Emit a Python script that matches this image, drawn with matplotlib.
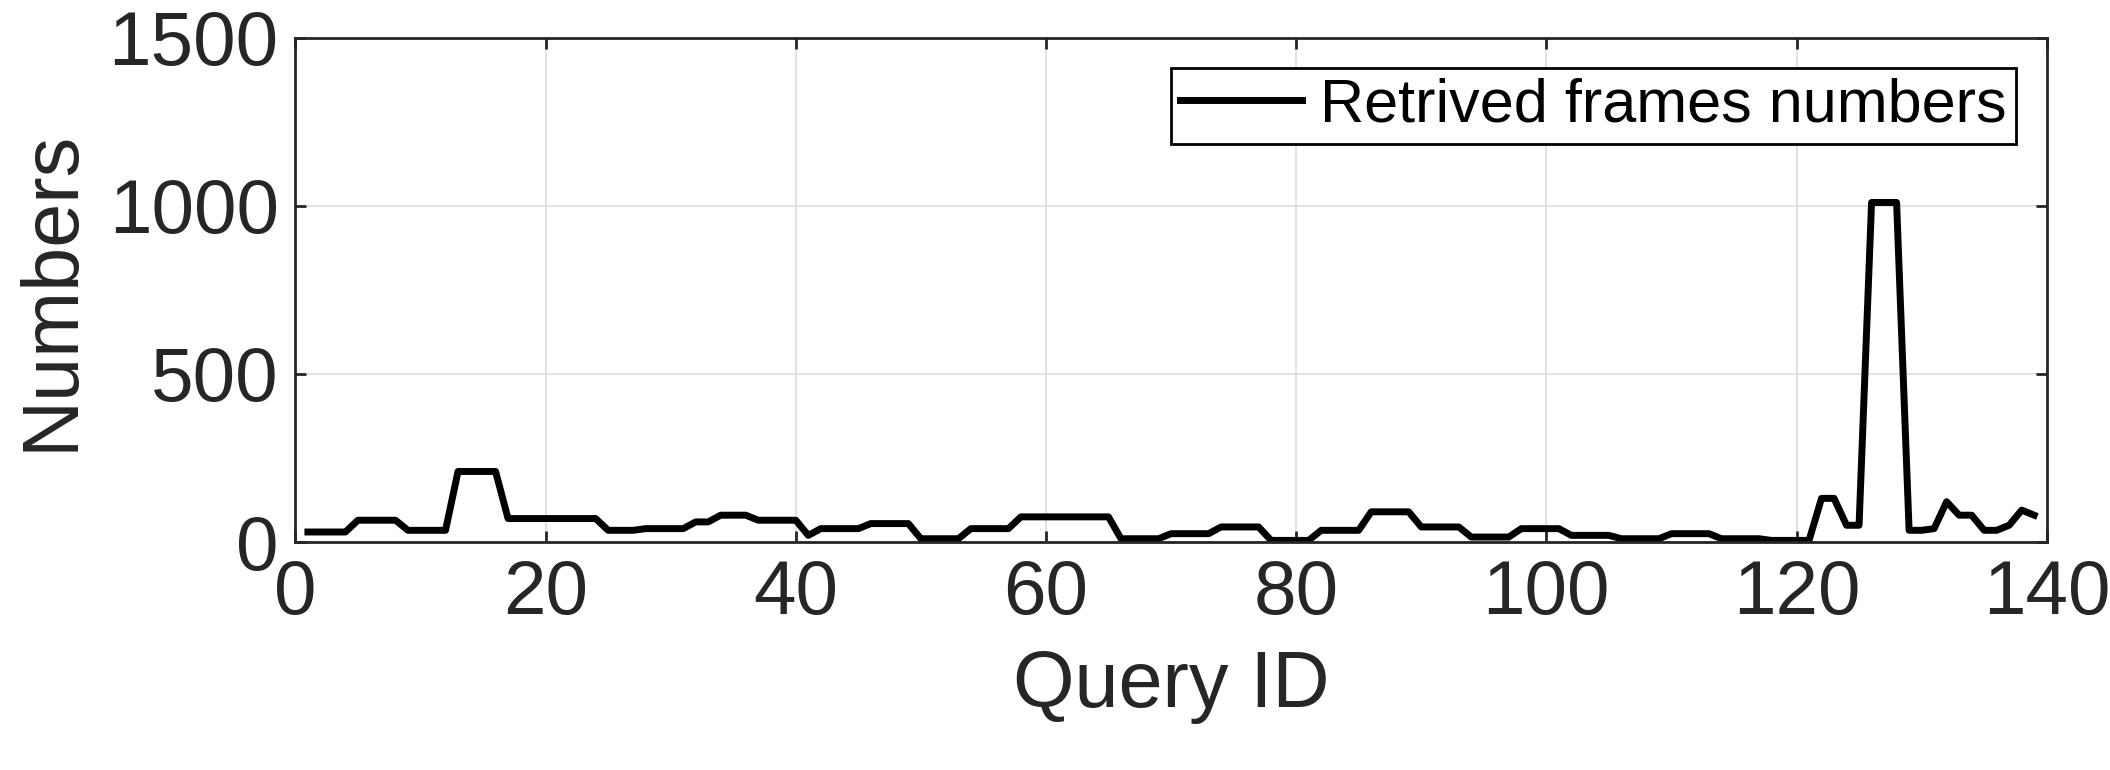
import matplotlib
matplotlib.use("Agg")
import matplotlib.pyplot as plt
import numpy as np

plt.rcParams['font.family'] = ['Liberation Sans', 'DejaVu Sans']

query_ids = list(range(1, 140))
values = ([30]*4 + [65]*4 + [35]*4 + [210]*4 + [70]*8 + [35]*3 + [40]*4 + [60]*2 + [80]*3 + [65]*4
          + [20] + [40]*4 + [55]*4 + [10]*4 + [40]*4 + [75]*8 + [10]*4 + [25]*4 + [45]*4 + [5]*4
          + [35]*4 + [90]*4 + [45]*4 + [15]*4 + [40]*4 + [20]*4 + [10]*4 + [25]*4 + [10]*4 + [5]*4
          + [130]*2 + [50]*2 + [1010]*3 + [35]*2 + [40] + [120] + [80]*2 + [35]*2 + [50] + [95] + [80])
values = values[:len(query_ids)]
query_ids = query_ids[:len(values)]

fig = plt.figure(figsize=(21.1, 7.7), dpi=100)
ax = fig.add_axes([0.14, 0.296, 0.83, 0.655])
ax.plot(query_ids, values, color='black', lw=5, label='Retrived frames numbers')
ax.set_xlim(0, 140)
ax.set_ylim(0, 1500)
ax.set_xticks(range(0, 141, 20))
ax.set_yticks([0, 500, 1000, 1500])
ax.grid(True, color='#dddddd', lw=1.2)
ax.tick_params(labelsize=55, colors='#262626', direction='in', length=8, width=2, top=True, right=True, pad=12)
for s in ax.spines.values():
    s.set_linewidth(2); s.set_color('#262626')
ax.set_xlabel('Query ID', fontsize=57, color='#262626', labelpad=14)
ax.set_ylabel('Numbers', fontsize=57, color='#262626', labelpad=14)
leg = ax.legend(loc='upper right', fontsize=44, frameon=True, fancybox=False, framealpha=1,
                edgecolor='#000000', handlelength=2.0, borderpad=0.15, handletextpad=0.3,
                borderaxespad=0.5)
leg.get_frame().set_linewidth(2)
fig.savefig('out.png', dpi=100)
